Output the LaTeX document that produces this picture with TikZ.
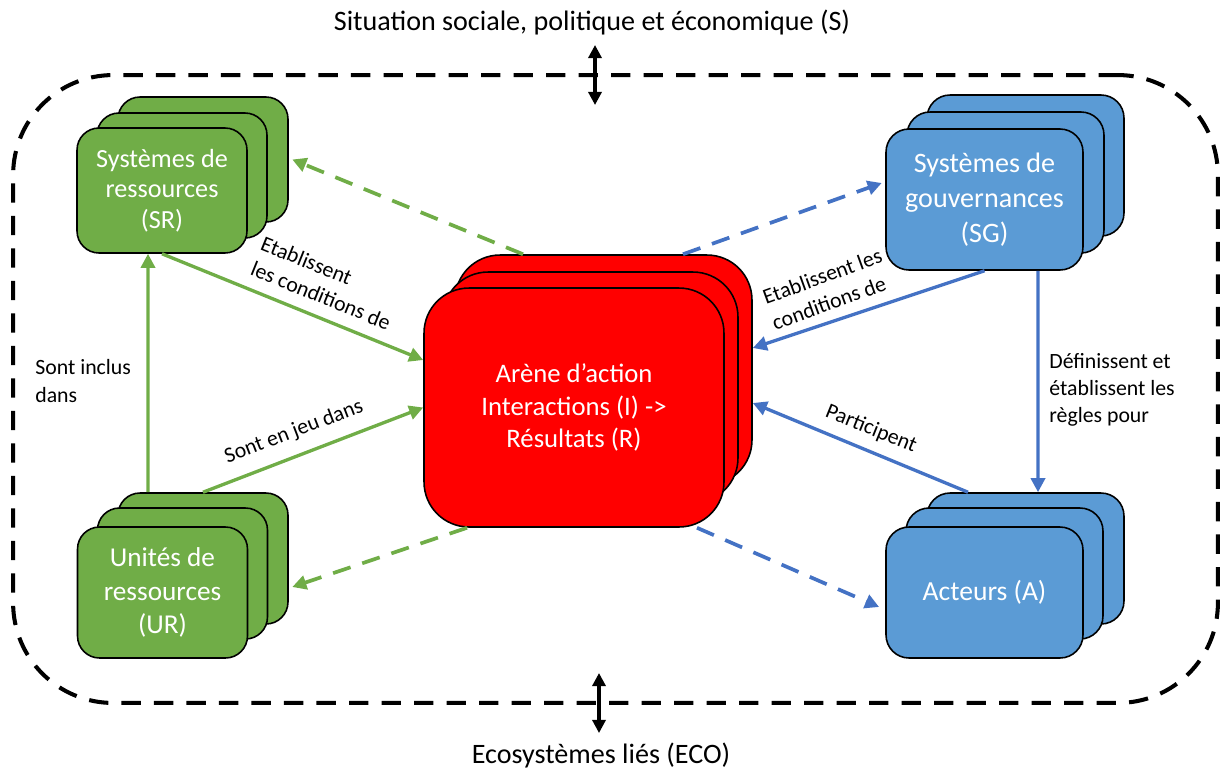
\documentclass[tikz,border=0pt]{standalone}
\usepackage{fontspec}
\setmainfont{Carlito}
\usetikzlibrary{arrows.meta,calc}
\definecolor{boxgreen}{HTML}{70AD47}
\definecolor{boxblue}{HTML}{5B9BD5}
\definecolor{arrblue}{HTML}{4472C4}
\definecolor{boxred}{HTML}{FF0000}
\begin{document}
\begin{tikzpicture}[x=0.02cm,y=-0.02cm,
  layer/.style={draw=black, line width=0.9pt, rectangle, inner sep=0pt, align=center, text=white},
  greenlayer/.style={layer, fill=boxgreen, rounded corners=0.44cm},
  bluelayer/.style={layer, fill=boxblue, rounded corners=0.46cm},
  redlayer/.style={layer, fill=boxred, rounded corners=0.9cm},
  frame/.style={draw=black, line width=2.3pt, dash pattern=on 11pt off 7.5pt, rounded corners=2cm, rectangle, inner sep=0pt},
  dblarrow/.style={draw=black, line width=1.8pt, {Triangle[length=7.5pt,width=7.5pt]}-{Triangle[length=7.5pt,width=7.5pt]}},
  garrow/.style={draw=boxgreen, line width=1.9pt, -{Triangle[length=8pt,width=8pt]}},
  barrow/.style={draw=arrblue, line width=1.9pt, -{Triangle[length=8pt,width=8pt]}},
  gdash/.style={garrow, line width=2.1pt, dash pattern=on 10.5pt off 7pt},
  bdash/.style={barrow, line width=2.1pt, dash pattern=on 10.5pt off 7pt},
  lab/.style={font=\fontsize{12.4}{15.5}\selectfont, text=black, inner sep=0pt},
  ttl/.style={font=\fontsize{16}{19}\selectfont, text=black, inner sep=0pt}
]
\path[use as bounding box] (0,0) rectangle (1222,771);

% outer frame
\node[frame, minimum width=24.1cm, minimum height=12.56cm] (frame) at (615.5,389) {};

% titles
\node[ttl] (top) at (592,22) {Situation sociale, politique et économique (S)};
\node[ttl] (bot) at (601,755) {Ecosystèmes liés (ECO)};
\coordinate (ta1) at (595,45);
\coordinate (ta2) at (595,105);
\coordinate (ba1) at (599,673);
\coordinate (ba2) at (599,733);
\draw[dblarrow] (ta1) -- (ta2);
\draw[dblarrow] (ba1) -- (ba2);

% SR stack
\node[greenlayer, minimum width=3.4cm, minimum height=2.5cm] (srb) at (203,159.5) {};
\node[greenlayer, minimum width=3.4cm, minimum height=2.5cm] (srm) at (182,175.5) {};
\node[greenlayer, minimum width=3.4cm, minimum height=2.5cm, font=\fontsize{14.9}{17.3}\selectfont] (srf) at (162,190.5) {Systèmes de\\ressources\\(SR)};

% UR stack
\node[greenlayer, minimum width=3.4cm, minimum height=2.62cm] (urb) at (203,558.5) {};
\node[greenlayer, minimum width=3.4cm, minimum height=2.62cm] (urm) at (182.5,573.5) {};
\node[greenlayer, minimum width=3.4cm, minimum height=2.62cm, font=\fontsize{15.5}{19.3}\selectfont] (urf) at (162.5,592.5) {Unités de\\ressources\\(UR)};

% SG stack
\node[bluelayer, minimum width=3.94cm, minimum height=2.82cm] (sgb) at (1025.5,165.5) {};
\node[bluelayer, minimum width=3.94cm, minimum height=2.82cm] (sgm) at (1005.5,182.5) {};
\node[bluelayer, minimum width=3.94cm, minimum height=2.82cm, font=\fontsize{16}{19.8}\selectfont] (sgf) at (984.5,199.5) {Systèmes de\\gouvernances\\(SG)};

% Acteurs stack
\node[bluelayer, minimum width=3.94cm, minimum height=2.62cm] (acb) at (1025.5,558.5) {};
\node[bluelayer, minimum width=3.94cm, minimum height=2.62cm] (acm) at (1004.5,573.5) {};
\node[bluelayer, minimum width=3.94cm, minimum height=2.62cm, font=\fontsize{15.7}{19.3}\selectfont] (acf) at (984.5,592.5) {Acteurs (A)};

% Arena stack
\node[redlayer, minimum width=5.94cm, minimum height=4.6cm] (arb) at (603.5,370) {};
\node[redlayer, minimum width=5.9cm, minimum height=4.62cm] (arm) at (590.5,387.5) {};
\node[redlayer, minimum width=6.0cm, minimum height=4.78cm, font=\fontsize{15.2}{18.7}\selectfont] (arf) at (574,407.5) {Arène d’action\\Interactions (I) ->\\Résultats (R)};

% green connectors
\draw[garrow] ([xshift=-1.1cm]urb.north) -- ([xshift=-0.28cm]srf.south);
\draw[garrow] (srf.south) -- ([yshift=0.95cm]arf.west);
\draw[garrow] (urb.north) -- (arf.west);
\draw[gdash] ([xshift=-1.61cm]arb.north) -- ([xshift=2pt]srb.east);
\draw[gdash] ([xshift=-2.14cm]arf.south) -- ([xshift=2pt,yshift=-0.57cm]urb.east);

% blue connectors
\draw[bdash] ([xshift=1.59cm]arb.north) -- ([xshift=-2pt,yshift=0.33cm]sgf.west);
\draw[bdash] ([xshift=2.46cm]arf.south) -- ([xshift=-3.5pt,yshift=-0.29cm]acf.west);
\draw[barrow] (sgf.south) -- ([yshift=0.44cm]arb.east);
\draw[barrow] ([xshift=1.07cm]sgf.south) -- ([xshift=0.25cm]acb.north);
\draw[barrow] ([xshift=-1.15cm]acb.north) -- ([yshift=-0.66cm]arb.east);

% labels
\node[lab, anchor=west, align=left] (l1) at (35,381) {Sont inclus\\dans};
\node[lab, align=left, rotate=-22] (l2) at (326,283) {Etablissent\\les conditions de};
\node[lab, rotate=21] (l3) at (294,432) {Sont en jeu dans};
\node[lab, align=left, rotate=20] (l4) at (827,289) {Etablissent les\\conditions de};
\node[lab, rotate=-22] (l5) at (871,429) {Participent};
\node[lab, anchor=west, align=left] (l6) at (1049,390) {Définissent et\\établissent les\\règles pour};
\end{tikzpicture}
\end{document}
